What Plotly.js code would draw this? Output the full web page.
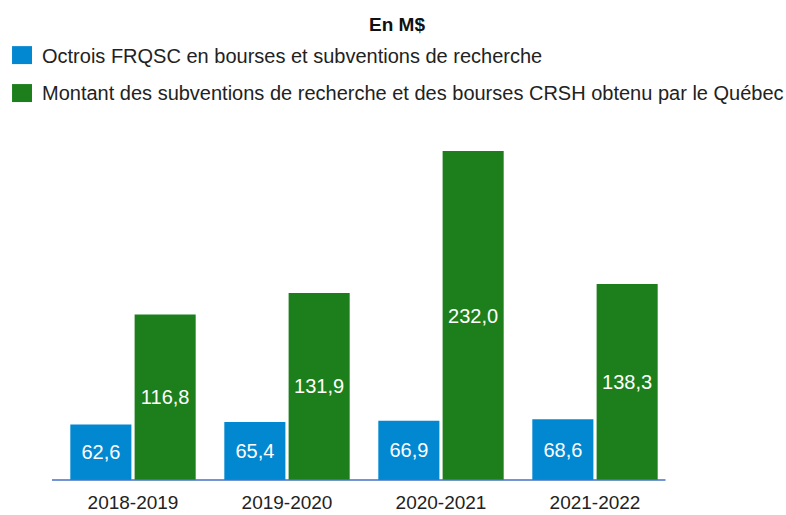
<!DOCTYPE html>
<html>
<head>
<meta charset="utf-8">
<script src="https://cdn.plot.ly/plotly-3.0.1.min.js"></script>
<style>html,body{margin:0;padding:0;background:#fff;}#chart{width:786px;height:515px;}</style>
</head>
<body>
<div id="chart"></div>
<script>
var categories = ["2018-2019", "2019-2020", "2020-2021", "2021-2022"];
var seriesNames = ["Octrois FRQSC en bourses et subventions de recherche",
                   "Montant des subventions de recherche et des bourses CRSH obtenu par le Québec"];
var frqscValues = [62.6, 65.4, 66.9, 68.6];
var crshValues = [116.8, 131.9, 232.0, 138.3];
var titleText = "En M$";

var BLUE = "#0288d1", GREEN = "#1c7f1c";
var FONT = "Liberation Sans, Arial, sans-serif";

function fmt(v){ return v.toFixed(1).replace(".", ","); }

// pixel geometry helpers
var L = 56, R = 113.5, T = 130, B = 34.5;
var W = 786 - L - R, H = 515 - T - B;
function px(x){ return (x - L) / W; }
function py(y){ return (515 - B - y) / H; }

var traces = [
  {type: "bar", name: seriesNames[0], x: categories, y: frqscValues, yaxis: "y2",
   offsetgroup: "a", marker: {color: BLUE},
   text: frqscValues.map(fmt), textposition: "inside", insidetextanchor: "middle",
   textfont: {color: "#ffffff", size: 20, family: FONT}, hoverinfo: "x+y", showlegend: false},
  {type: "bar", name: seriesNames[1], x: categories, y: crshValues, yaxis: "y",
   offsetgroup: "b", marker: {color: GREEN},
   text: crshValues.map(fmt), textposition: "inside", insidetextanchor: "middle",
   textfont: {color: "#ffffff", size: 20, family: FONT}, hoverinfo: "x+y", showlegend: false}
];

var layout = {
  width: 786, height: 515,
  margin: {l: L, r: R, t: T, b: B, pad: 0},
  paper_bgcolor: "#ffffff", plot_bgcolor: "#ffffff",
  font: {family: FONT, color: "#222222"},
  title: {text: "<b>" + titleText + "</b>", font: {size: 19, family: FONT, color: "#111111"},
          x: 397/786, xanchor: "center", xref: "container", y: 1 - 24/515, yanchor: "middle", yref: "container"},
  barmode: "group", bargap: 0.165, bargroupgap: 0.05,
  showlegend: false,
  xaxis: {type: "category", showgrid: false, zeroline: false, showline: false, ticks: "",
          tickfont: {size: 19, family: FONT, color: "#222222"}, ticklabelstandoff: 9, fixedrange: true},
  yaxis: {range: [0, H / 1.42], visible: false, showgrid: false, zeroline: false, fixedrange: true},
  yaxis2: {range: [0, H / 0.888], overlaying: "y", visible: false, showgrid: false, zeroline: false, fixedrange: true},
  shapes: [
    {type: "line", xref: "paper", yref: "paper", x0: px(52), x1: px(666), y0: 0, y1: 0,
     line: {color: "#4472c4", width: 1.5}},
    {type: "rect", xref: "paper", yref: "paper", x0: px(12), x1: px(32), y0: py(64), y1: py(46),
     fillcolor: BLUE, line: {width: 0}},
    {type: "rect", xref: "paper", yref: "paper", x0: px(12), x1: px(32), y0: py(102), y1: py(84),
     fillcolor: GREEN, line: {width: 0}}
  ],
  annotations: [
    {xref: "paper", yref: "paper", x: px(40), y: py(56), xanchor: "left", yanchor: "middle",
     text: seriesNames[0], showarrow: false, font: {size: 20, family: FONT, color: "#222222"}},
    {xref: "paper", yref: "paper", x: px(40), y: py(93), xanchor: "left", yanchor: "middle",
     text: seriesNames[1], showarrow: false, font: {size: 20, family: FONT, color: "#222222"}}
  ]
};

Plotly.newPlot("chart", traces, layout, {displayModeBar: false, staticPlot: true});
</script>
</body>
</html>
